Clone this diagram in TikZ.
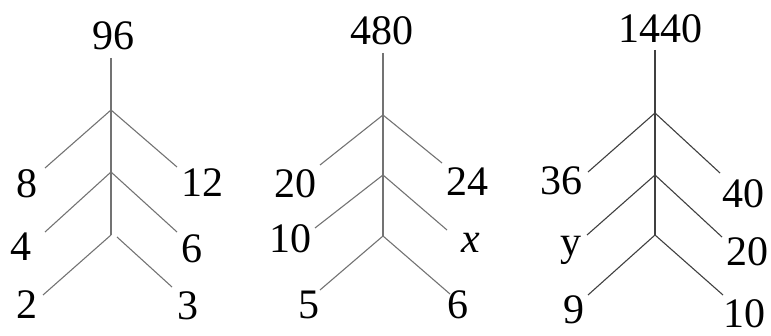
\documentclass[tikz,border=0pt]{standalone}
\usepackage{fontspec}
\setmainfont{Liberation Serif}
\begin{document}
\begin{tikzpicture}[x=1pt,y=-1pt,
  lbl/.style={inner sep=0pt,font=\fontsize{42}{46}\selectfont},
  branch/.style={draw=black!55,line width=1.1pt},
  branchdark/.style={draw=black!75,line width=1.1pt}]
\useasboundingbox (0,0) rectangle (771,336);
% ---------- tree 1 ----------
\node[lbl] (t1) at (113,36) {96};
\node[lbl] (t1l1) at (27,184) {8};
\node[lbl] (t1r1) at (202,183) {12};
\node[lbl] (t1l2) at (21,247) {4};
\node[lbl] (t1r2) at (192,249) {6};
\node[lbl] (t1l3) at (27,305) {2};
\node[lbl] (t1r3) at (188,306) {3};
\coordinate (a0) at (111,58);
\coordinate (a1) at (111,110);
\coordinate (a2) at (111,172);
\coordinate (a3) at (111,235);
\coordinate (a3r) at (117,237);
\coordinate (a1le) at (45,168);
\coordinate (a1re) at (177,167);
\coordinate (a2le) at (45,232);
\coordinate (a2re) at (177,232);
\coordinate (a3le) at (43,295);
\coordinate (a3re) at (172,287);
\draw[branch] (a0) -- (a3);
\draw[branch] (a1) -- (a1le);
\draw[branch] (a1) -- (a1re);
\draw[branch] (a2) -- (a2le);
\draw[branch] (a2) -- (a2re);
\draw[branch] (a3) -- (a3le);
\draw[branch] (a3r) -- (a3re);
% ---------- tree 2 ----------
\node[lbl] (t2) at (382,31) {480};
\node[lbl] (t2l1) at (295,184) {20};
\node[lbl] (t2r1) at (467,182) {24};
\node[lbl] (t2l2) at (290,239) {10};
\node[lbl,anchor=base] (t2r2) at (471,253) {\itshape x};
\node[lbl] (t2l3) at (309,305) {5};
\node[lbl] (t2r3) at (458,305) {6};
\coordinate (b0) at (383,53);
\coordinate (b1) at (383,115);
\coordinate (b2) at (383,175);
\coordinate (b3) at (383,236);
\coordinate (b1le) at (320,165);
\coordinate (b1re) at (442,163);
\coordinate (b2le) at (315,228);
\coordinate (b2re) at (447,230);
\coordinate (b3le) at (320,290);
\coordinate (b3re) at (450,294);
\draw[branch] (b0) -- (b3);
\draw[branch] (b1) -- (b1le);
\draw[branch] (b1) -- (b1re);
\draw[branch] (b2) -- (b2le);
\draw[branch] (b2) -- (b2re);
\draw[branch] (b3) -- (b3le);
\draw[branch] (b3) -- (b3re);
% ---------- tree 3 ----------
\node[lbl] (t3) at (660,29) {1440};
\node[lbl] (t3l1) at (561,181) {36};
\node[lbl] (t3r1) at (743,194) {40};
\node[lbl,anchor=base] (t3l2) at (571,256) {y};
\node[lbl] (t3r2) at (747,252) {20};
\node[lbl] (t3l3) at (574,310) {9};
\node[lbl] (t3r3) at (744,314) {10};
\coordinate (c0) at (655,50);
\coordinate (c1) at (655,113);
\coordinate (c2) at (655,175);
\coordinate (c3) at (655,235);
\coordinate (c1le) at (588,172);
\coordinate (c1re) at (720,173);
\coordinate (c2le) at (587,235);
\coordinate (c2re) at (722,237);
\coordinate (c3le) at (588,295);
\coordinate (c3re) at (723,295);
\draw[branchdark] (c0) -- (c3);
\draw[branchdark] (c1) -- (c1le);
\draw[branchdark] (c1) -- (c1re);
\draw[branchdark] (c2) -- (c2le);
\draw[branchdark] (c2) -- (c2re);
\draw[branchdark] (c3) -- (c3le);
\draw[branchdark] (c3) -- (c3re);
\end{tikzpicture}
\end{document}
